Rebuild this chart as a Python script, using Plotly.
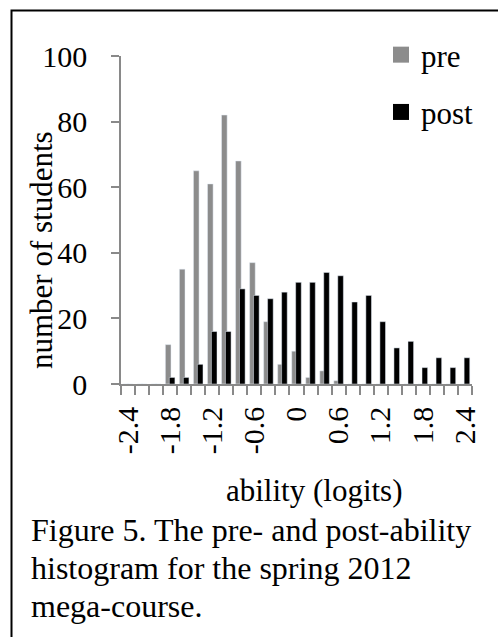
import plotly.graph_objects as go

# ---- data ----
ability = [-2.4, -2.2, -2.0, -1.8, -1.6, -1.4, -1.2, -1.0, -0.8, -0.6, -0.4, -0.2,
           0.0, 0.2, 0.4, 0.6, 0.8, 1.0, 1.2, 1.4, 1.6, 1.8, 2.0, 2.2, 2.4]
pre = [0, 0, 0, 12, 35, 65, 61, 82, 68, 37, 19, 6,
       10, 2, 4, 1, 0, 0, 0, 0, 0, 0, 0, 0, 0]
post = [0, 0, 0, 2, 2, 6, 16, 16, 29, 27, 26, 28,
        31, 31, 34, 33, 25, 27, 19, 11, 13, 5, 8, 5, 8]
tick_vals = [-2.4, -1.8, -1.2, -0.6, 0.0, 0.6, 1.2, 1.8, 2.4]
tick_text = ["-2.4", "-1.8", "-1.2", "-0.6", "0", "0.6", "1.2", "1.8", "2.4"]
y_ticks = [0, 20, 40, 60, 80, 100]
series_names = ["pre", "post"]
series_colors = ["#8c8c8c", "#000000"]

# ---- layout geometry (pixels) ----
W, H = 498, 637
L, R, T, B = 121, 26, 56, 253
PW, PH = W - L - R, H - T - B


def px(x):
    return (x - L) / PW


def py(y):
    return (H - B - y) / PH


FONT = "Liberation Serif"
AX = "#898989"

fig = go.Figure()
fig.add_trace(go.Bar(x=ability, y=pre, name=series_names[0], marker_color=series_colors[0],
                     width=0.08, offset=-0.068, showlegend=False))
fig.add_trace(go.Bar(x=ability, y=post, name=series_names[1], marker_color=series_colors[1],
                     width=0.08, offset=-0.012, showlegend=False))
# legend entries (square keys)
for nm, col in zip(series_names, series_colors):
    fig.add_trace(go.Scatter(x=[None], y=[None], mode="markers", name=nm,
                             marker=dict(symbol="square", size=16, color=col),
                             legendgroup=nm, showlegend=True))

fig.update_layout(
    width=W, height=H,
    margin=dict(l=L, r=R, t=T, b=B, pad=0),
    paper_bgcolor="white", plot_bgcolor="white",
    barmode="overlay",
    font=dict(family=FONT, size=31, color="black"),
    legend=dict(x=px(381), y=py(28), xanchor="left", yanchor="top",
                font=dict(size=31, family=FONT), tracegroupgap=14, traceorder="grouped",
                itemsizing="trace", bgcolor="rgba(0,0,0,0)"),
    xaxis=dict(range=[-2.5, 2.5], tickmode="array", tickvals=tick_vals,
               ticktext=tick_text, tickangle=-90, ticks="", showgrid=False,
               zeroline=False, showline=True, linecolor=AX, linewidth=1.5,
               tickfont=dict(size=30, family=FONT), ticklabelstandoff=9,
               minor=dict(ticks="outside", tickmode="linear", tick0=-2.5, dtick=0.2,
                          ticklen=9, tickcolor=AX, tickwidth=1.5, showgrid=False)),
    yaxis=dict(range=[0, 100], tickvals=y_ticks, ticks="outside", ticklen=8,
               tickcolor=AX, tickwidth=1.5, showgrid=False, zeroline=False,
               showline=True, linecolor=AX, linewidth=1.5,
               tickfont=dict(size=30, family=FONT), ticklabelstandoff=18),
)

annos = [
    dict(text="number of students", x=px(41), y=py(250), textangle=-90),
    dict(text="ability (logits)", x=px(314), y=py(490)),
]
for a in annos:
    fig.add_annotation(xref="paper", yref="paper", showarrow=False,
                       xanchor="center", yanchor="middle",
                       font=dict(size=31, family=FONT, color="black"), **a)

caption = ["Figure 5. The pre- and post-ability",
           "histogram for the spring 2012",
           "mega-course."]
for i, line in enumerate(caption):
    fig.add_annotation(xref="paper", yref="paper", showarrow=False,
                       x=px(29), y=py(530 + 38 * i), xanchor="left", yanchor="middle",
                       text=line, font=dict(size=32, family=FONT, color="black"))

fig.add_shape(type="rect", xref="paper", yref="paper",
              x0=px(11.5), x1=px(520), y0=py(660), y1=py(10.5),
              line=dict(color="black", width=2), fillcolor="rgba(0,0,0,0)")

fig.write_html("out.html", config={"displayModeBar": False},
               post_script="document.body.style.margin='0';document.body.style.overflow='hidden';")
